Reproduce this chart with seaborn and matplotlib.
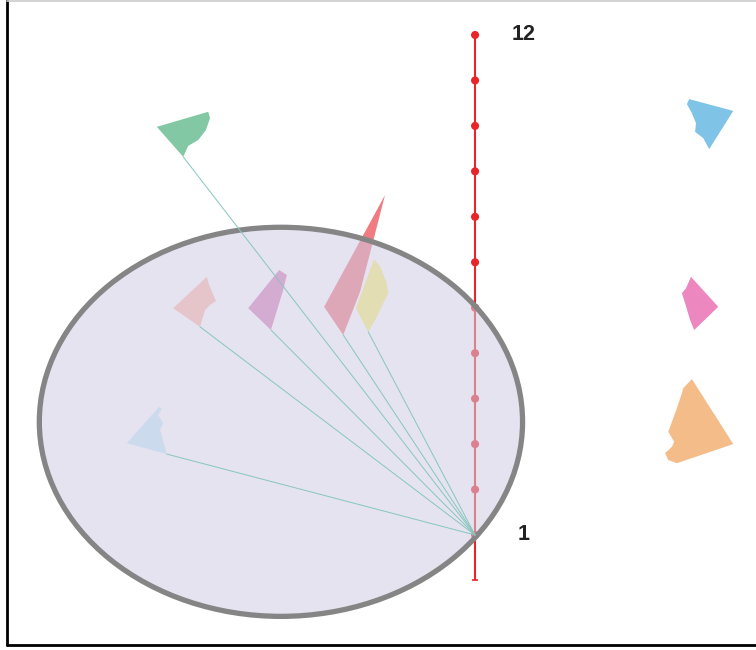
import numpy as np
import matplotlib
matplotlib.use("Agg")
import matplotlib.pyplot as plt
from matplotlib.patches import Ellipse, Polygon
from matplotlib.lines import Line2D
import seaborn as sns

# levels on the vertical scale
levels = np.arange(1, 13)
axis_x = np.zeros(len(levels))
label_levels = [1, 12]

# flag shapes (x, level); last vertex is the foot that links to level 1
flag_green = [(-7.00, 9.98), (-5.87, 10.31), (-5.83, 10.17), (-5.92, 9.91),
              (-6.09, 9.69), (-6.31, 9.56), (-6.42, 9.32)]
flag_rose = [(-6.64, 5.99), (-5.90, 6.68), (-5.85, 6.50), (-5.70, 6.15),
             (-5.83, 6.06), (-5.94, 5.95), (-6.05, 5.58)]
flag_purple = [(-4.99, 5.99), (-4.31, 6.83), (-4.14, 6.72), (-4.22, 6.39),
               (-4.49, 5.51)]
flag_red = [(-3.32, 6.02), (-1.98, 8.48), (-2.53, 6.35), (-2.90, 5.40)]
flag_yellow = [(-2.62, 5.99), (-2.22, 7.07), (-2.09, 6.90), (-1.94, 6.54),
               (-1.91, 6.32), (-2.02, 6.10), (-2.16, 5.80), (-2.35, 5.47)]
flag_sky = [(-7.66, 3.02), (-6.95, 3.82), (-6.89, 3.77), (-6.97, 3.64),
            (-6.86, 3.46), (-6.93, 3.31), (-6.78, 2.78)]

# loose shapes on the right
shape_blue = [(4.71, 10.59), (4.66, 10.48), (4.77, 10.28), (4.86, 10.06),
              (4.84, 9.87), (5.02, 9.73), (5.15, 9.49), (5.68, 10.33)]
shape_magenta = [(4.75, 6.68), (5.35, 6.02), (4.82, 5.51), (4.73, 5.73),
                 (4.62, 6.10), (4.55, 6.32), (4.64, 6.43)]
shape_orange = [(4.77, 4.43), (5.68, 3.00), (4.44, 2.58), (4.25, 2.65),
                (4.18, 2.80), (4.33, 2.94), (4.38, 3.05), (4.25, 3.27),
                (4.44, 3.79), (4.55, 4.12), (4.58, 4.23)]

linked_flags = [flag_green, flag_rose, flag_purple, flag_red, flag_yellow, flag_sky]
linked_colors = ["#82c8a4", "#ffbcac", "#d985bc", "#f07c82", "#fcf278", "#c7ebfa"]
loose_shapes = [shape_blue, shape_magenta, shape_orange]
loose_colors = ["#7fc4e6", "#ec87c0", "#f4bc88"]

# the oval region (centre, width, height)
oval_center = (-4.27, 3.49)
oval_w, oval_h = 10.63, 8.56

sns.set_theme(style="white")
plt.rcParams['font.family'] = ['Liberation Sans', 'DejaVu Sans']

fig = plt.figure(figsize=(7.56, 6.5), dpi=100)
ax = fig.add_axes([0, 0, 1, 1])
ax.set_xlim(-10.45, 6.18)
ax.set_ylim(-1.53, 12.77)
ax.axis('off')

# vertical scale
ax.vlines(0, 0, levels.max(), color="#e8262a", lw=1.5, zorder=2)
ax.plot([0], [0], marker="_", color="#e8262a", ms=5, mew=1.2, zorder=2)
sns.scatterplot(x=axis_x, y=levels, color="#e8262a", s=34, edgecolor="none",
                ax=ax, zorder=3, legend=False)

for lv in label_levels:
    ax.text(1.07, lv, str(lv), ha="center", va="center", fontsize=15.5,
            fontweight="bold", color="#222222")

# flags
for pts, col in zip(linked_flags, linked_colors):
    ax.add_patch(Polygon(pts, closed=True, facecolor=col, edgecolor="none", zorder=2))
for pts, col in zip(loose_shapes, loose_colors):
    ax.add_patch(Polygon(pts, closed=True, facecolor=col, edgecolor="none", zorder=2))

# oval over the flags
ax.add_patch(Ellipse(oval_center, oval_w, oval_h, facecolor="#d0cce4",
                     edgecolor="none", alpha=0.55, zorder=4))
ax.add_patch(Ellipse(oval_center, oval_w, oval_h, facecolor="none",
                     edgecolor="#858585", lw=3.8, zorder=5))

# links from each flag foot to level 1
for pts in linked_flags:
    fx, fy = pts[-1]
    ax.plot([fx, 0], [fy, 1], color="#86c6bd", lw=0.7, zorder=6)

# frame
fig.add_artist(Line2D([7 / 756, 7 / 756], [5 / 650, 1], color="black", lw=2,
                      transform=fig.transFigure))
fig.add_artist(Line2D([7 / 756, 1], [5 / 650, 5 / 650], color="black", lw=2,
                      transform=fig.transFigure))
fig.add_artist(Line2D([7 / 756, 1], [1 - 1 / 650, 1 - 1 / 650], color="#cccccc",
                      lw=1.2, transform=fig.transFigure))

fig.savefig("out.png", dpi=100)
